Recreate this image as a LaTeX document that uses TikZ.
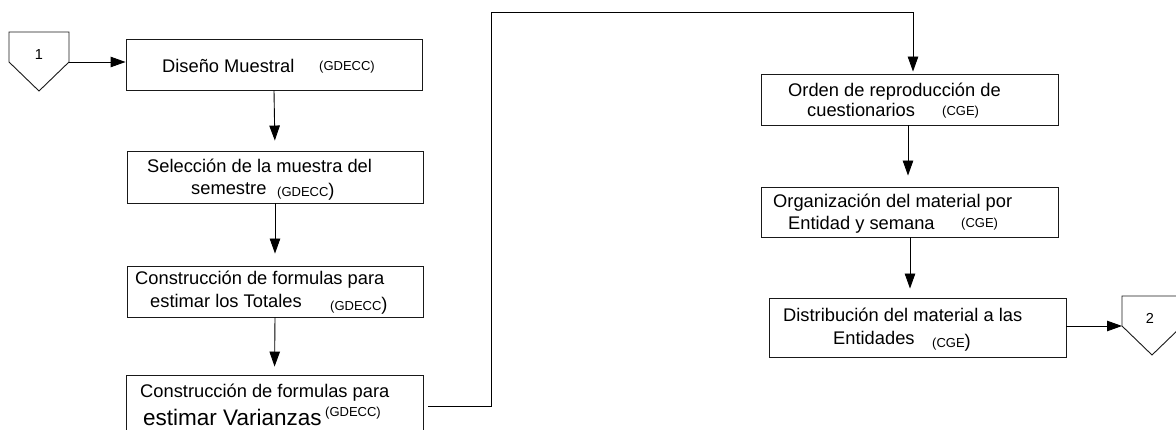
\documentclass[tikz,border=0pt]{standalone}
\usepackage{fontspec}
\setmainfont{Liberation Sans}
\usetikzlibrary{arrows.meta}
\newcommand\txtM{\fontsize{18.3}{20}\selectfont}
\newcommand\txtS{\fontsize{13}{14}\selectfont}
\newcommand\txtL{\fontsize{22.5}{24}\selectfont}
\newcommand\txtN{\fontsize{14.5}{15}\selectfont}
\tikzset{
  box/.style={draw=black!90, line width=0.9pt, inner sep=0pt, rectangle},
  txt/.style={inner sep=0pt, anchor=base west, font=\txtM},
  sml/.style={inner sep=0pt, anchor=base west, font=\txtS},
  num/.style={inner sep=0pt, anchor=center, font=\txtN},
  arr/.style={draw=black, line width=0.9pt, -{Triangle[length=15pt,width=10.5pt]}},
  offpage/.style={draw=black!90, line width=0.9pt, line join=miter},
}
\begin{document}
\begin{tikzpicture}[x=1pt,y=-1pt]
\useasboundingbox (0,0) rectangle (1176,430);
\clip (0,0) rectangle (1176,430);
% off-page connector 1
\draw[offpage] (9,32) -- (69,32) -- (69,62) -- (39,91) -- (9,62) -- cycle;
\node[num] (n1) at (39,55) {1};
\coordinate (c1out) at (69,62);
% off-page connector 2
\draw[offpage] (1122,296) -- (1182,296) -- (1182,326) -- (1152,355) -- (1122,326) -- cycle;
\node[num] (n2) at (1150,318) {2};
\coordinate (c2in) at (1122,326);

% boxes
\node[box, minimum width=296pt, minimum height=51pt] (b1) at (274,64.5) {};
\node[box, minimum width=296pt, minimum height=52pt] (b2) at (275,177) {};
\node[box, minimum width=296pt, minimum height=51pt] (b3) at (275,291.5) {};
\node[box, minimum width=297pt, minimum height=60pt] (b4) at (274.5,405) {};
\node[box, minimum width=297pt, minimum height=51pt] (b5) at (909.5,99.5) {};
\node[box, minimum width=297pt, minimum height=50pt] (b6) at (909.5,212) {};
\node[box, minimum width=297pt, minimum height=59pt] (b7) at (917.5,327.5) {};

% texts
\node[txt] (t1a) at (162,72.5) {Diseño Muestral};
\node[sml] (t1b) at (319,71) {(GDECC)};

\node[txt] (t2a) at (147,173) {Selección de la muestra del};
\node[txt] (t2b) at (191,195) {semestre};
\node[sml] (t2c) at (277,197) {(GDECC{\txtM)}};

\node[txt] (t3a) at (135,285) {Construcción de formulas para};
\node[txt] (t3b) at (150,308) {estimar los Totales};
\node[sml] (t3c) at (330,311) {(GDECC{\txtM)}};

\node[txt] (t4a) at (140,398) {Construcción de formulas para};
\node[txt, font=\txtL] (t4b) at (143,425) {estimar Varianzas};
\node[sml] (t4c) at (325,417) {(GDECC)};

\node[txt] (t5a) at (788,97) {Orden de reproducción de};
\node[txt] (t5b) at (807,117) {cuestionarios};
\node[sml] (t5c) at (942,116) {(CGE)};

\node[txt] (t6a) at (773,208) {Organización del material por};
\node[txt] (t6b) at (788,230) {Entidad y semana};
\node[sml] (t6c) at (961,228) {(CGE)};

\node[txt] (t7a) at (783,322) {Distribución del material a las};
\node[txt] (t7b) at (833,345) {Entidades};
\node[sml] (t7c) at (932,348) {(CGE{\txtM)}};

% connectors
\draw[arr] (c1out) -- (c1out -| b1.west);
\draw[arr, shorten >=10pt] (b1.south) -- (b2.north);
\draw[arr, shorten >=12pt] (b2.south) -- (b3.north);
\draw[arr, shorten >=8pt] (b3.south) -- (b4.north);
\coordinate (b4out) at (428,406);
\draw[arr, shorten >=2pt] (b4out) -- (491,406) -- (491,12) -- (913,12) -- ([xshift=3.5pt]b5.north);
\draw[arr, shorten >=11pt] ([xshift=-1.5pt]b5.south) -- ([xshift=-1.5pt]b6.north);
\draw[arr, shorten >=9pt] ([xshift=0.5pt]b6.south) -- ([xshift=0.5pt]b6.south |- b7.north);
\draw[arr] (b7.east |- c2in) -- (c2in);
\end{tikzpicture}
\end{document}
